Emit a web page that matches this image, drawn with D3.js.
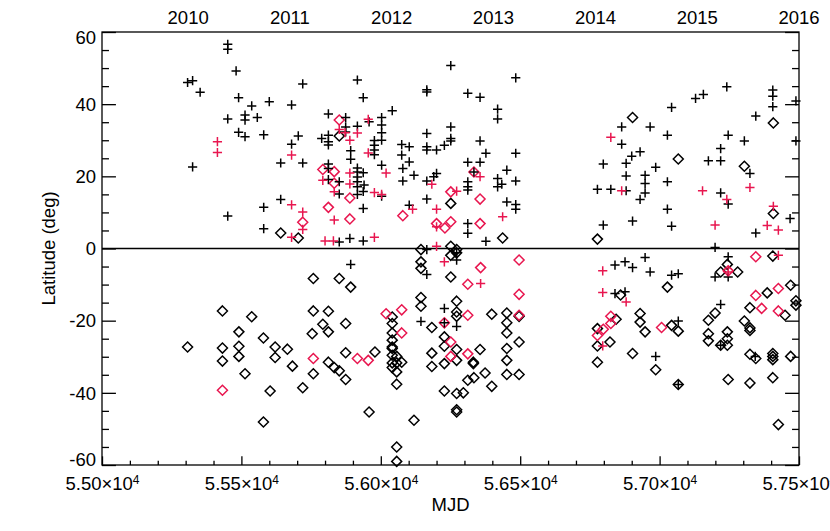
<!DOCTYPE html>
<html>
<head>
<meta charset="utf-8">
<script src="https://cdnjs.cloudflare.com/ajax/libs/d3/7.8.5/d3.min.js"></script>
<style>
  body { margin: 0; background: #fff; }
  text { font-family: "Liberation Sans", Arial, Helvetica, sans-serif; fill: #000; }
</style>
</head>
<body>
<div class="visHolder"></div>
<script>
// values: [MJD, latitude in deg]
var blackPlus = [
  [55307,46.0],[55325,46.5],[55352,43.3],[55325,22.6],[55451,56.6],[55451,55.2],[55481,49.2],[55451,35.9],
  [55451,9.0],[55490,41.8],[55490,32.2],[55513,37.0],[55513,35.6],[55513,31.0],[55537,39.5],[55557,36.3],
  [55580,31.5],[55600,40.7],[55580,11.4],[55580,5.5],[55641,13.6],[55641,23.7],[55680,39.8],[55680,28.9],
  [55704,31.2],[55720,45.6],[55720,23.7],
  [55812,37.3],[55874,36.3],[55916,46.7],[55937,41.8],[56041,38.2],
  [56003,36.3],[56003,34.2],[56003,32.1],[56003,30.0],[56003,23.1],[56003,14.5],
  [55788,30.5],[55812,31.4],[55812,29.6],[55812,28.7],[55874,33.7],[55874,32.3],[55892,27.1],[55892,24.7],
  [55916,33.9],[55916,22.3],[55916,21.2],[55916,19.8],[55916,18.5],[55916,17.1],[55916,15.0],
  [55937,21.0],[55937,15.8],[55937,11.1],[55940,17.6],[55958,35.1],
  [55977,29.9],[55977,28.6],[55977,27.3],[55977,26.0],
  [55812,23.4],[55812,22.2],[55812,19.1],[55851,18.5],[55851,15.1],[55889,2.8],[55937,2.1],[55851,1.8],
  [56075,28.8],[56102,28.2],[56075,25.9],[56102,24.0],[56079,22.2],[56079,18.7],[56119,20.3],[56102,12.0],
  [56165,43.4],[56165,44.0],[56165,31.9],[56165,28.2],[56165,27.3],[56200,27.3],[56228,28.6],[56165,18.7],
  [56200,20.8],[56190,19.9],[56165,13.7],
  [56251,50.7],[56251,33.7],[56251,30.5],[56251,29.8],
  [56312,43.0],[56356,41.9],[56356,29.8],[56377,26.4],[56312,23.9],[56356,23.9],[56312,18.5],[56312,17.1],
  [56312,16.2],[56419,38.6],[56419,35.9],[56419,19.4],[56419,17.1],[56434,17.8],[56452,21.7],[56484,47.3],
  [56484,26.4],[56484,18.7],[56452,12.9],[56484,12.2],[56484,10.9],[56312,6.9],[56312,4.2],[56377,2.0],
  [56334,21.2],
  [56777,16.4],[56798,23.4],[56798,6.5],[56825,16.4],[56864,33.7],[56864,28.9],[56880,23.6],[56880,20.1],
  [56880,16.0],[56900,25.6],[56930,26.8],[56903,7.6],[56930,13.6],[56948,20.3],[56948,18.0],[56948,15.4],
  [56966,33.7],[56986,22.5],[57028,31.4],[57028,18.5],[57028,10.9],[57043,39.1],[57043,6.2],[57129,41.6],
  [57157,42.7],[57175,24.3],[57219,27.7],[57219,24.3],[57219,15.4],[57241,44.8],[57246,31.4],[57246,12.3],
  [57304,29.8],[57324,20.8],[57345,36.7],[57345,4.3],[57406,43.9],[57406,42.2],[57406,39.3],[57468,8.3],
  [57489,40.9],[57489,29.8],[57199,0.3],
  [55892,-4.4],[56165,-0.3],[56165,-7.2],[56228,-16.6],[56144,-20.2],[56272,-3.2],[56272,-21.6],[56272,-1.2],
  [56228,-20.6],
  [56840,-4.6],[56876,-3.7],[56903,-5.3],[56948,-2.5],[56966,-6.5],[57043,-7.4],[57067,-7.0],[56840,-12.5],
  [56876,-12.0],[57067,-20.1],[56986,-29.9],[57067,-37.7],[57199,-7.9],[57219,-15.5],[57246,-2.3],[57246,-7.9],
  [57219,-26.8],[57343,-29.9]
];

var redPlus = [
  [55414,29.6],[55414,26.6],[55680,25.9],[55680,12.1],[55720,10.1],[55720,5.3],[55680,3.1],
  [55792,18.9],[55833,15.7],[55833,7.9],[55851,33.0],[55872,32.1],[55889,30.0],[55889,20.9],[55889,17.9],
  [55916,32.0],[55955,35.8],[55955,26.5],[55977,15.5],[56003,15.0],[56019,20.9],[55977,3.1],[55800,2.1],
  [55830,2.1],[56114,10.9],[56183,17.8],[56200,10.9],[56200,0.6],[56272,15.9],[56356,19.9],[56437,8.8],
  [56200,6.0],[56228,-3.7],[56358,-9.7],
  [56825,30.8],[56864,16.0],[57154,16.0],[57241,13.6],[57199,6.5],[57324,16.9],[57386,6.4],[57408,11.7],
  [57426,5.1],[56796,-6.2],[56796,-12.2],[56880,-14.8],[56796,-27.0],[57426,-1.9],[57246,-6.5]
];

var blackDiamond = [
  [55641,4.3],[55704,2.9],[55851,31.2],[56251,12.5],[56437,2.9],[56777,2.6],[56903,36.3],[57067,24.8],
  [57304,22.8],[57408,34.8],[57408,9.7],
  [56144,-0.3],[56251,0.6],[56251,-1.9],[56272,-1.2],[56272,-0.3],
  [55307,-27.3],[55432,-17.3],[55432,-27.6],[55432,-31.2],[55491,-23.1],[55491,-27.1],[55491,-29.9],
  [55513,-34.7],[55537,-18.9],[55579,-24.8],[55579,-48.1],[55603,-39.5],[55621,-27.3],[55621,-30.2],
  [55665,-27.9],[55683,-32.6],[55720,-38.6],[55758,-8.3],[55758,-17.3],[55754,-23.6],[55758,-34.7],
  [55792,-21.0],[55812,-17.4],[55812,-23.1],[55812,-31.5],[55833,-33.0],[55851,-8.3],[55851,-33.9],
  [55874,-20.8],[55874,-28.9],[55874,-36.3],[55892,-10.7],[55958,-45.3],[55979,-28.7],
  [56041,-19.0],[56041,-20.8],[56041,-23.4],[56041,-25.4],[56041,-27.3],[56041,-27.7],[56041,-29.6],
  [56041,-31.7],[56041,-33.0],
  [56057,-29.9],[56057,-31.7],[56057,-34.2],[56057,-37.6],[56057,-55.0],[56057,-59.0],
  [56075,-31.5],[56119,-47.6],
  [56144,-3.7],[56144,-5.5],[56251,-7.9],[56144,-13.6],[56144,-16.0],[56272,-14.6],[56272,-17.6],
  [56272,-18.8],[56183,-21.9],[56183,-29.0],[56183,-32.7],[56228,-24.5],[56228,-27.1],[56228,-31.9],
  [56228,-39.5],[56272,-28.0],[56272,-31.0],[56272,-40.2],[56272,-44.7],[56272,-45.3],[56296,-40.0],
  [56312,-36.5],[56332,-31.5],[56332,-31.9],[56334,-35.8],[56356,-28.0],[56374,-34.5],[56398,-18.2],
  [56398,-38.2],
  [56452,-17.9],[56452,-20.6],[56452,-23.4],[56452,-27.7],[56452,-31.0],[56452,-34.9],
  [56496,-18.8],[56496,-25.9],[56496,-34.9],
  [56777,-22.2],[56777,-27.0],[56777,-31.5],[56822,-25.9],[56844,-19.6],[56860,-12.9],[56903,-29.1],
  [56930,-18.0],[56930,-20.4],[56948,-23.1],[56986,-33.6],[57028,-10.7],[57043,-21.3],[57067,-22.9],
  [57067,-37.7],[57175,-19.9],[57175,-23.6],[57175,-25.6],[57199,-17.9],[57219,-6.5],[57219,-26.8],
  [57243,-4.4],[57243,-23.1],[57243,-25.0],[57243,-26.8],[57246,-36.3],[57280,-6.5],[57304,-20.1],
  [57324,-16.4],[57324,-22.0],[57324,-22.7],[57324,-29.3],[57345,-30.5],[57324,-37.3],[57386,-12.3],
  [57406,-2.1],[57406,-29.1],[57406,-29.9],[57406,-30.8],[57406,-35.8],[57426,-48.8],[57450,-18.5],
  [57470,-10.2],[57470,-29.9],[57489,-14.5],[57489,-15.7]
];

var redDiamond = [
  [55720,7.3],[55792,21.9],[55833,21.3],[55833,18.1],[55812,11.4],[55889,14.0],[55889,8.2],[55851,35.6],
  [56079,9.1],[56251,15.7],[56334,21.2],[56356,13.7],[56200,6.9],[56230,5.7],[56251,7.4],[56356,6.9],
  [55432,-39.3],[55758,-30.5],[55916,-30.5],[55955,-31.0],[56019,-18.1],[56075,-17.0],[56075,-23.4],
  [56228,-20.6],[56251,-25.9],[56251,-29.9],[56312,-9.9],[56312,-18.5],[56312,-29.2],[56358,-5.3],
  [56496,-3.2],[56496,-12.7],[56496,-18.5],
  [56777,-24.1],[56798,-22.4],[56825,-18.8],[56825,-20.8],[57007,-21.9],[57246,-6.2],[57345,-2.3],
  [57345,-13.0],[57366,-16.6],[57426,-11.1],[57426,-17.3]
];

var xTicks = [55000, 55500, 56000, 56500, 57000, 57500];
var yTicks = [-60, -40, -20, 0, 20, 40, 60];
var yearLabels = ['2010', '2011', '2012', '2013', '2014', '2015', '2016'];
var yearMjd = [55309, 55674, 56039, 56404, 56770, 57135, 57500];

var width = 830,
    height = 531,
    plotLeft = 102, plotRight = 799, plotTop = 32, plotBottom = 465,
    red = '#e8164f';

var svg = d3.select('.visHolder')
  .append('svg')
  .attr('width', width)
  .attr('height', height);

svg.append('rect')
  .attr('width', width)
  .attr('height', height)
  .style('fill', '#fff');

var x = d3.scaleLinear().domain([55000, 57500]).range([plotLeft, plotRight]);
var y = d3.scaleLinear().domain([-60, 60]).range([plotBottom, plotTop]);

// IDL-like tick lengths: 2% of the plot size, minors half that
var xLen = 0.02 * (plotBottom - plotTop),
    yLen = 0.02 * (plotRight - plotLeft);

var xMinor = d3.range(55000, 57501, 100).filter(function(v) { return xTicks.indexOf(v) < 0; });
var yMinor = d3.range(-60, 61, 5).filter(function(v) { return yTicks.indexOf(v) < 0; });

var fmt = d3.format('.2f');

// bottom axis
var xAxis = svg.append('g')
  .attr('transform', 'translate(0,' + plotBottom + ')')
  .call(d3.axisBottom(x).tickValues(xTicks).tickSize(-xLen).tickPadding(12).tickFormat(''));
xAxis.selectAll('.tick text').each(function(d) {
  var t = d3.select(this).text(fmt(d / 1e4) + '\u00d710');
  t.append('tspan').attr('dy', '-0.55em').style('font-size', '12px').text('4');
});
svg.append('g')
  .attr('transform', 'translate(0,' + plotBottom + ')')
  .call(d3.axisBottom(x).tickValues(xMinor).tickSize(-xLen / 2).tickFormat(''));

// left axis (plain hyphen for negatives, like the original)
var yAxis = svg.append('g')
  .attr('transform', 'translate(' + plotLeft + ',0)')
  .call(d3.axisLeft(y).tickValues(yTicks).tickSize(-yLen).tickPadding(6)
    .tickFormat(function(d) { return String(d); }));
yAxis.selectAll('.tick text')
  .attr('dy', function(d) { return d === 60 ? '0.6em' : (d === -60 ? '0.05em' : '0.34em'); });
svg.append('g')
  .attr('transform', 'translate(' + plotLeft + ',0)')
  .call(d3.axisLeft(y).tickValues(yMinor).tickSize(-yLen / 2).tickFormat(''));

// right axis, ticks only
svg.append('g')
  .attr('transform', 'translate(' + plotRight + ',0)')
  .call(d3.axisRight(y).tickValues(yTicks).tickSize(-yLen).tickFormat(''));
svg.append('g')
  .attr('transform', 'translate(' + plotRight + ',0)')
  .call(d3.axisRight(y).tickValues(yMinor).tickSize(-yLen / 2).tickFormat(''));

svg.selectAll('.domain').remove();
svg.selectAll('.tick line').style('stroke', '#000').style('stroke-width', 1.3);
svg.selectAll('.tick text').style('font-size', '18.5px').style('fill', '#000');

// top: year labels
svg.append('g').selectAll('text')
  .data(yearLabels)
  .enter()
  .append('text')
  .attr('x', function(d, i) { return x(yearMjd[i]); })
  .attr('y', 24)
  .attr('text-anchor', 'middle')
  .style('font-size', '18.5px')
  .text(function(d) { return d; });

// frame
svg.append('rect')
  .attr('x', plotLeft)
  .attr('y', plotTop)
  .attr('width', plotRight - plotLeft)
  .attr('height', plotBottom - plotTop)
  .style('fill', 'none')
  .style('stroke', '#000')
  .style('stroke-width', 1.3);

// zero line
svg.append('line')
  .attr('x1', plotLeft).attr('x2', plotRight)
  .attr('y1', y(0)).attr('y2', y(0))
  .style('stroke', '#000')
  .style('stroke-width', 1.3);

svg.append('text')
  .attr('x', (plotLeft + plotRight) / 2)
  .attr('y', 511)
  .attr('text-anchor', 'middle')
  .style('font-size', '18.5px')
  .text('MJD');

svg.append('text')
  .attr('transform', 'translate(55,' + ((plotTop + plotBottom) / 2) + ') rotate(-90)')
  .attr('text-anchor', 'middle')
  .style('font-size', '18.5px')
  .text('Latitude (deg)');

var plusPath = 'M-4.6,0H4.6M0,-4.6V4.6',
    diamondPath = 'M0,-5L5,0L0,5L-5,0Z';

function drawMarks(data, path, colour) {
  svg.append('g').selectAll('path')
    .data(data)
    .enter()
    .append('path')
    .attr('d', path)
    .attr('transform', function(d) { return 'translate(' + x(d[0]) + ',' + y(d[1]) + ')'; })
    .style('fill', 'none')
    .style('stroke', colour)
    .style('stroke-width', 1.5);
}

drawMarks(blackDiamond, diamondPath, '#000');
drawMarks(redDiamond, diamondPath, red);
drawMarks(blackPlus, plusPath, '#000');
drawMarks(redPlus, plusPath, red);
</script>
</body>
</html>
